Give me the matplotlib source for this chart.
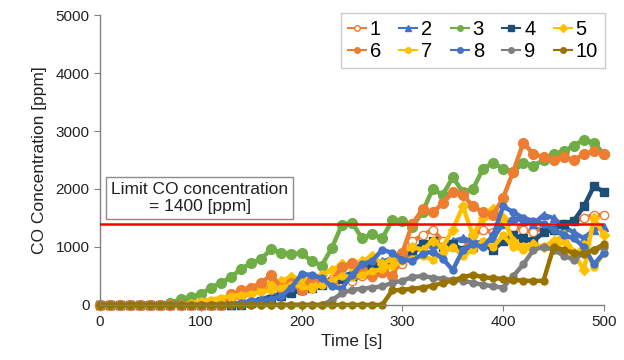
import matplotlib
matplotlib.use("Agg")
import matplotlib.pyplot as plt

plt.rcParams['font.family'] = ['Liberation Sans', 'DejaVu Sans']

time_s = list(range(0, 501, 10))

s1 = [0, 0, 0, 0, 0, 0, 0, 0, 0, 0, 0, 0,
      50, 100, 150, 200, 250, 300, 280, 320, 350, 300, 380, 450, 400, 420,
      500, 480, 550, 600, 700, 1100, 1200, 1300, 1100, 1000, 950, 1200, 1300,
      1250, 1400, 1350, 1300, 1250, 1350, 1300, 1400, 1450, 1500, 1550, 1550]
s2 = [0, 0, 0, 0, 0, 0, 0, 0, 0, 0, 0, 0, 0, 0,
      30, 60, 100, 150, 200, 280, 350, 400, 380, 420, 500, 550, 650, 700,
      750, 800, 850, 900, 1000, 1050, 1000, 1100, 1150, 1100, 1050, 1150,
      1400, 1500, 1450, 1400, 1550, 1500, 1350, 1250, 1150, 1300, 1350]
s3 = [0, 0, 0, 0, 0, 0, 0,
      30, 100, 140, 180, 300, 380, 480, 620, 720, 800, 960, 900, 880, 890,
      760, 680, 980, 1380, 1420, 1150, 1220, 1150, 1460, 1450, 1350, 1600,
      2000, 1900, 2200, 1950, 2000, 2350, 2450, 2350, 2300, 2450, 2400, 2500,
      2600, 2650, 2750, 2850, 2800, 2600]
s4 = [0, 0, 0, 0, 0, 0, 0, 0, 0, 0, 0, 0, 0, 0, 0,
      30, 60, 100, 150, 200, 260, 300, 350, 400, 450, 500, 600, 650, 700,
      750, 850, 950, 1050, 1100, 1000, 1050, 950, 1000, 1050, 950, 1100,
      1200, 1150, 1100, 1250, 1300, 1400, 1450, 1700, 2050, 1950]
s5 = [0, 0, 0, 0, 0, 0, 0, 0, 0, 0, 0,
      50, 80, 120, 180, 250, 320, 380, 420, 480, 450, 380, 520, 600, 700,
      650, 750, 850, 700, 800, 900, 1000, 950, 1100, 1000, 1300, 1700, 1200,
      1500, 1650, 1500, 1100, 1000, 1050, 1000, 1100, 1200, 900, 600, 1500, 1200]
s6 = [0, 0, 0, 0, 0, 0, 0, 0, 0, 0, 0, 0, 0,
      180, 250, 300, 380, 520, 300, 380, 260, 480, 420, 400, 650, 720, 600,
      520, 560, 500, 900, 1400, 1650, 1600, 1750, 1950, 1900, 1700, 1600,
      1550, 1850, 2300, 2800, 2600, 2550, 2500, 2550, 2500, 2600, 2650, 2600]
s7 = [0, 0, 0, 0, 0, 0, 0, 0, 0,
      30, 60, 90, 120, 150, 170, 190, 220, 260, 300, 350, 320, 280, 350, 420,
      500, 480, 520, 580, 620, 680, 750, 800, 850, 780, 900, 1000, 850, 950,
      1100, 1000, 1200, 1000, 950, 980, 1000, 950, 1100, 800, 1050, 650, 900]
s8 = [0, 0, 0, 0, 0, 0, 0, 0, 0, 0, 0, 0, 0, 0,
      40, 60, 80, 100, 150, 300, 530, 520, 460, 320, 280, 520, 700, 760, 950,
      900, 780, 760, 880, 920, 800, 600, 950, 1050, 1000, 1200, 1700, 1600,
      1500, 1450, 1400, 1300, 1200, 1150, 1000, 700, 900]
s9 = [0, 0, 0, 0, 0, 0, 0, 0, 0, 0, 0, 0, 0, 0, 0, 0, 0, 0, 0, 0, 0, 0, 0,
      80, 200, 260, 280, 300, 320, 380, 420, 480, 500, 470, 450, 430, 420,
      380, 350, 320, 300, 500, 700, 950, 1000, 950, 850, 780, 900, 950, 1000]
s10 = [0, 0, 0, 0, 0, 0, 0, 0, 0, 0, 0, 0, 0, 0, 0, 0, 0, 0, 0, 0, 0, 0, 0,
       0, 0, 0, 0, 0, 0,
       250, 260, 280, 300, 330, 380, 420, 480, 520, 480, 460, 450, 430, 420,
       410, 420, 1000, 950, 900, 880, 950, 1050]

series = [s1, s2, s3, s4, s5, s6, s7, s8, s9, s10]
labels = ['1', '2', '3', '4', '5', '6', '7', '8', '9', '10']
colors = ['#ED7D31', '#4472C4', '#70AD47', '#1F4E79', '#FFC000',
          '#ED7D31', '#FFC000', '#4472C4', '#7F7F7F', '#997300']
markers = ['o', '^', 'o', 's', 'D', 'o', 'o', 'o', 'o', 'o']
msizes = [6, 6, 7, 6, 5, 7, 5, 5, 5, 5]

limit_value = 1400
limit_text = "Limit CO concentration\n= 1400 [ppm]"

fig = plt.figure(figsize=(6.24, 3.6), dpi=100)
ax = fig.add_axes([0.160, 0.153, 0.808, 0.805])

handles = []
for i, (vals, lab, c, m, ms) in enumerate(zip(series, labels, colors, markers, msizes)):
    mfc = 'white' if i == 0 else c
    ln, = ax.plot(time_s, vals, color=c, lw=3.2, marker=m, markersize=ms,
                  markerfacecolor=mfc, markeredgecolor=c, label=lab,
                  clip_on=False, zorder=2 + i * 0.01)
    handles.append(ln)

ax.axhline(limit_value, color='#FF0000', lw=1.8, zorder=3)
ax.text(99, 1845, limit_text, ha='center', va='center', fontsize=12.5,
        multialignment='center', color='#222222',
        bbox=dict(boxstyle='square,pad=0.3', facecolor='white',
                  edgecolor='#8C8C8C', lw=1.0), zorder=4)

ax.set_xlim(0, 500)
ax.set_ylim(0, 5000)
ax.set_xticks([0, 100, 200, 300, 400, 500])
ax.set_yticks([0, 1000, 2000, 3000, 4000, 5000])
ax.tick_params(axis='both', labelsize=11, length=4, color='#808080',
               labelcolor='#222222', direction='out')
for sp in ['top', 'right']:
    ax.spines[sp].set_visible(False)
for sp in ['left', 'bottom']:
    ax.spines[sp].set_color('#808080')
    ax.spines[sp].set_linewidth(1.0)

ax.set_xlabel('Time [s]', fontsize=12.5, color='#222222', labelpad=3)
ax.set_ylabel('CO Concentration [ppm]', fontsize=12.5, color='#222222', labelpad=6)

# legend filled row-wise: 1-5 on top row, 6-10 on bottom row
order = [0, 5, 1, 6, 2, 7, 3, 8, 4, 9]
leg = ax.legend([handles[k] for k in order], [labels[k] for k in order],
                loc='upper right', bbox_to_anchor=(1.002, 1.007), ncol=5,
                fontsize=14.5, frameon=True, fancybox=False, borderaxespad=0,
                handlelength=0.9, handletextpad=0.2, columnspacing=0.9,
                labelspacing=0.15, borderpad=0.35)
leg.get_frame().set_edgecolor('#BFBFBF')
leg.get_frame().set_linewidth(1.0)
for h in leg.legend_handles:
    h.set_linewidth(1.5)
    h.set_markersize(4)

fig.savefig('out.png', dpi=100)
